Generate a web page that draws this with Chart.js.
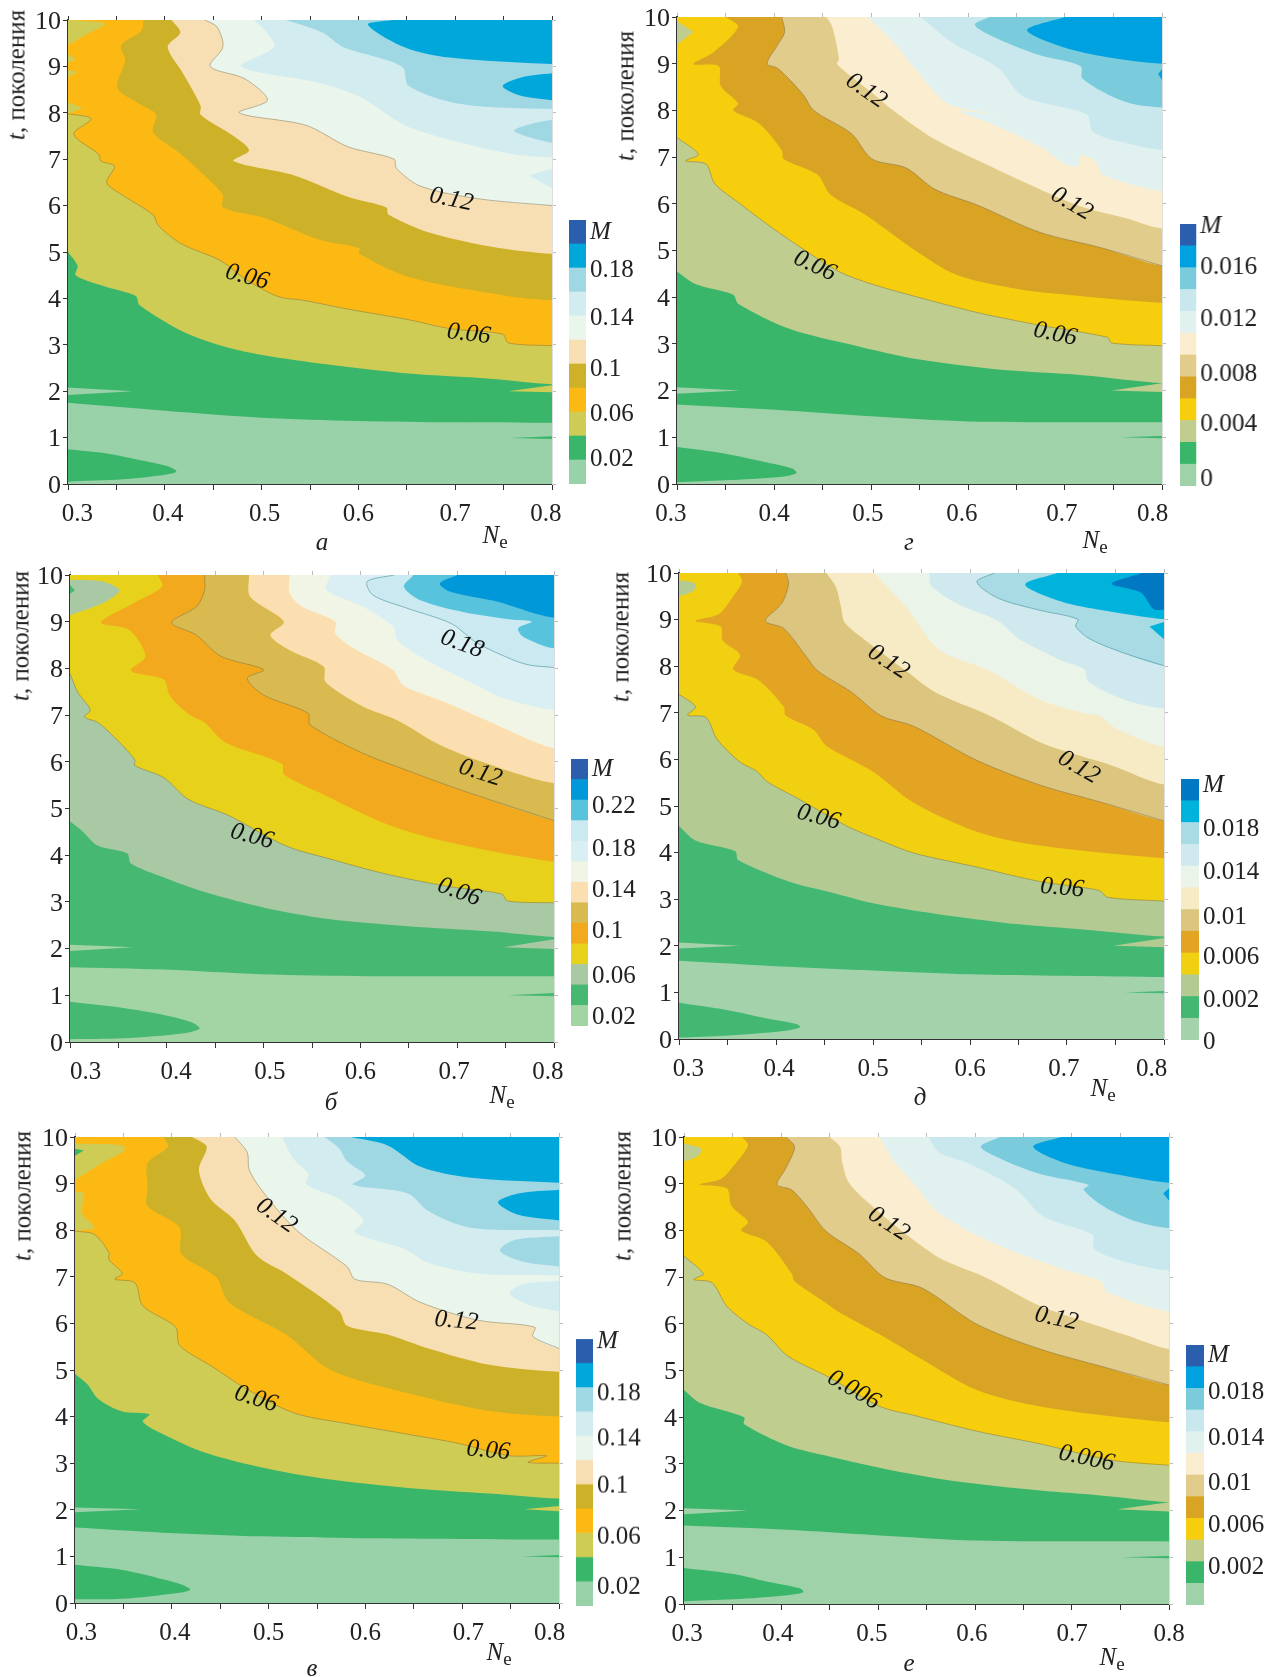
<!DOCTYPE html>
<html>
<head>
<meta charset="utf-8">
<title>M contours</title>
<script src="https://cdn.jsdelivr.net/npm/chart.js@4"></script>
<style>
body { margin: 0; background: #fff; }
#page { position: relative; width: 1279px; height: 1677px; overflow: hidden; font-family: "Liberation Serif", serif; font-size: 25px; color: #222; }
#page canvas { position: absolute; }
.txt { position: absolute; white-space: nowrap; transform: translate(-50%, -50%); line-height: 1; }
.txt sub { font-size: 19px; vertical-align: -5px; line-height: 0; }
</style>
</head>
<body>
<div id="page"></div>
<script>
// axis ticks
var neMin = 0.3, neMax = 0.8, tMin = 0, tMax = 10;

// panel a: contours as [Ne, t], bottom to top
var a1 = [[.3,1.75],[.4,1.58],[.5,1.43],[.6,1.36],[.7,1.33],[.8,1.32]];
var a2 = [[.3,5],[.31,4.7],[.308,4.5],[.336,4.27],[.37,4.05],[.374,3.85],[.42,3.27],[.462,2.96],[.504,2.77],[.567,2.58],[.652,2.38],[.736,2.27],[.8,2.15]];
var a3 = [[.3,7.98],[.324,7.87],[.306,7.54],[.332,7.1],[.334,6.96],[.348,6.85],[.34,6.5],[.353,6.27],[.388,5.8],[.393,5.58],[.416,5.19],[.458,4.81],[.483,4.42],[.517,4.04],[.543,3.96],[.589,3.77],[.652,3.54],[.694,3.35],[.749,3.23],[.755,3.04],[.8,2.98]];
var a4 = [[.378,10],[.376,9.77],[.355,9.46],[.359,9.12],[.351,8.54],[.374,8.19],[.391,7.96],[.388,7.58],[.416,7.12],[.441,6.65],[.46,6.23],[.46,5.96],[.504,5.73],[.559,5.27],[.601,5.08],[.601,4.96],[.652,4.46],[.757,4.04],[.8,3.96]];
var a5 = [[.407,10],[.416,9.73],[.403,9.42],[.418,8.88],[.437,8.15],[.437,7.96],[.471,7.5],[.487,7.19],[.471,6.96],[.534,6.65],[.589,6.19],[.629,5.96],[.631,5.81],[.673,5.42],[.736,5.12],[.8,4.96]];
var a6 = [[.441,10],[.454,9.85],[.46,9.42],[.447,9],[.483,8.73],[.506,8.27],[.477,8],[.546,7.73],[.589,7.27],[.637,7],[.639,6.81],[.664,6.42],[.723,6.15],[.8,6]];
var a7 = [[.492,10],[.504,9.77],[.513,9.42],[.479,9],[.559,8.65],[.601,8.35],[.648,7.73],[.694,7.42],[.757,7.12],[.8,7.04]];
var a8 = [[.525,10],[.563,9.73],[.584,9.42],[.645,9],[.652,8.58],[.706,8.19],[.8,8.08]];
var a9 = [[.635,10],[.61,9.9],[.647,9.42],[.694,9.19],[.8,9.05]];
var aBlob = [[.3,.75],[.34,.66],[.378,.5],[.403,.38],[.412,.27],[.4,.2],[.357,.1],[.3,.05]];
var aSliverL = [[.3,2.08],[.367,2],[.3,1.92]];
var aSliverR = [[.755,2],[.8,2.13],[.8,1.98]];
var aThin = [[.757,.99],[.8,1.03],[.8,.97]];
var aPocket1 = [[.3,10],[.338,9.92],[.319,9.69],[.3,9.46]];
var aPocket2 = [[.3,9.27],[.308,9.15],[.3,9.08]];
var aPocket3 = [[.3,8.92],[.31,8.88],[.3,8.77]];
var aPocket4 = [[.3,8.23],[.315,8.1],[.3,7.98]];
var aIsle1 = [[.8,6.8],[.776,6.65],[.8,6.38]];
var aIsle2 = [[.8,7.85],[.78,7.77],[.761,7.62],[.78,7.45],[.8,7.35]];
var aIsle3 = [[.8,8.85],[.77,8.77],[.749,8.58],[.766,8.38],[.8,8.27]];

// panel b
var b1 = [[.3,1.6],[.397,1.55],[.498,1.45],[.607,1.41],[.8,1.41]];
var b2 = [[.3,4.72],[.313,4.51],[.329,4.2],[.359,4.04],[.363,3.82],[.397,3.52],[.439,3.21],[.502,2.87],[.565,2.64],[.649,2.48],[.733,2.37],[.8,2.25]];
var b3 = [[.3,7.89],[.308,7.49],[.321,7.11],[.315,6.96],[.329,6.84],[.351,6.42],[.367,6.04],[.367,5.92],[.397,5.66],[.422,5.2],[.464,4.85],[.523,4.2],[.565,3.94],[.628,3.59],[.691,3.33],[.746,3.17],[.752,3.02],[.8,2.98]];
var b4 = [[.391,10],[.395,9.75],[.363,9.37],[.332,8.98],[.361,8.83],[.378,8.26],[.363,7.95],[.397,7.76],[.403,7.42],[.422,7.03],[.439,6.84],[.46,6.42],[.519,5.96],[.521,5.73],[.565,5.27],[.628,4.66],[.691,4.28],[.8,3.86]];
var b5 = [[.439,10],[.439,9.67],[.431,9.33],[.405,8.98],[.43,8.72],[.456,8.26],[.5,7.97],[.483,7.79],[.5,7.43],[.546,7.04],[.548,6.79],[.603,6.18],[.649,5.81],[.706,5.38],[.8,4.74]];
var b6 = [[.485,10],[.486,9.54],[.521,9],[.507,8.71],[.527,8.39],[.562,8.04],[.564,7.71],[.603,7.18],[.638,6.89],[.686,6.32],[.755,5.79],[.8,5.54]];
var b7 = [[.527,10],[.527,9.61],[.54,9.32],[.574,9],[.574,8.75],[.593,8.43],[.634,7.96],[.644,7.64],[.686,7.29],[.73,6.89],[.8,6.29]];
var b8 = [[.569,10],[.565,9.68],[.603,9.32],[.634,8.89],[.638,8.61],[.668,8.18],[.72,7.64],[.748,7.36],[.8,7.11]];
var b9 = [[.635,10],[.607,9.86],[.613,9.57],[.648,9.29],[.694,8.96],[.72,8.55],[.758,8.18],[.775,8.07],[.8,8.02]];
var b10 = [[.655,10],[.645,9.75],[.662,9.46],[.706,9.21],[.758,9.04],[.777,9],[.763,8.86],[.768,8.68],[.8,8.43]];
var b11 = [[.7,10],[.682,9.82],[.693,9.64],[.741,9.43],[.775,9.21],[.8,9.09]];
var bBlob = [[.3,.86],[.355,.73],[.397,.58],[.426,.42],[.434,.29],[.418,.19],[.355,.08],[.3,.06]];
var bSliverL = [[.3,2.08],[.365,2.03],[.3,1.95]];
var bSliverR = [[.748,2.03],[.8,2.2],[.8,1.99]];
var bThin = [[.752,1],[.8,1.05],[.8,.98]];
var bPocket1 = [[.3,9.9],[.334,9.86],[.351,9.67],[.334,9.4],[.3,9.14]];
var bPocket2 = [[.3,9.79],[.305,9.67],[.3,9.6]];
var bIsle1 = [[.8,7.89],[.792,7.84],[.8,7.72]];

// panel v
var v1 = [[.3,1.62],[.391,1.51],[.493,1.43],[.594,1.39],[.8,1.36]];
var v2 = [[.3,4.92],[.313,4.69],[.324,4.38],[.349,4.11],[.377,4.05],[.37,3.89],[.391,3.62],[.434,3.23],[.497,2.89],[.56,2.66],[.644,2.47],[.728,2.35],[.8,2.24]];
var v3 = [[.3,7.98],[.32,7.91],[.335,7.52],[.335,7.37],[.349,7.07],[.341,6.95],[.362,6.87],[.37,6.38],[.404,5.92],[.408,5.53],[.442,5.07],[.476,4.61],[.526,4.08],[.581,3.85],[.644,3.62],[.695,3.43],[.749,3.16],[.787,3.16],[.768,3.02],[.8,3]];
var v4 = [[.391,10],[.396,9.79],[.375,9.44],[.375,8.94],[.375,8.52],[.408,8.06],[.41,7.49],[.446,6.99],[.459,6.45],[.518,5.76],[.564,5],[.644,4.5],[.728,4.12],[.8,4]];
var v5 = [[.421,10],[.436,9.79],[.428,9.29],[.44,8.67],[.465,8.21],[.488,7.45],[.518,7.07],[.573,6.26],[.581,5.95],[.623,5.76],[.665,5.46],[.728,5.11],[.8,4.96]];
var v6 = [[.465,10],[.478,9.67],[.48,9.29],[.497,8.75],[.53,7.98],[.581,7.22],[.589,6.95],[.623,6.84],[.657,6.45],[.716,6.07],[.775,5.92],[.773,5.72],[.8,5.46]];
var v7 = [[.514,10],[.526,9.52],[.541,9.21],[.539,8.98],[.573,8.67],[.598,8.21],[.589,7.95],[.64,7.6],[.665,7.3],[.716,7.07],[.8,7.03]];
var v8 = [[.558,10],[.573,9.75],[.581,9.48],[.6,9.17],[.587,8.98],[.644,8.79],[.665,8.41],[.707,8.06],[.8,8]];
var v9 = [[.585,10],[.623,9.82],[.657,9.36],[.707,9.13],[.8,9.02]];
var vBlob = [[.3,.82],[.349,.71],[.391,.51],[.412,.38],[.419,.28],[.404,.21],[.349,.09],[.3,.08]];
var vSliverL = [[.3,2.05],[.368,2.01],[.3,1.95]];
var vSliverR = [[.764,2.01],[.8,2.08],[.8,1.97]];
var vThin = [[.762,1],[.8,1.03],[.8,.98]];
var vPocket1 = [[.3,9.86],[.349,9.82],[.351,9.71],[.328,9.44],[.3,9.07]];
var vPocket2 = [[.3,8.83],[.309,8.79],[.307,8.37],[.32,8.06],[.3,7.98]];
var vPocket3 = [[.3,9.75],[.309,9.71],[.3,9.6]];
var vIsle1 = [[.8,6.91],[.762,6.84],[.749,6.64],[.771,6.38],[.8,6.26]];
var vIsle2 = [[.8,7.87],[.754,7.79],[.739,7.56],[.762,7.33],[.8,7.22]];
var vIsle3 = [[.8,8.87],[.758,8.79],[.737,8.6],[.758,8.33],[.8,8.21]];

// panel g
var g1 = [[.3,1.7],[.415,1.57],[.501,1.45],[.601,1.34],[.8,1.32]];
var g2 = [[.3,4.55],[.319,4.28],[.358,4.05],[.363,3.86],[.415,3.33],[.48,2.98],[.545,2.68],[.631,2.45],[.718,2.33],[.8,2.16]];
var g3 = [[.3,7.42],[.322,7.06],[.309,6.92],[.33,6.85],[.339,6.43],[.367,5.97],[.384,5.7],[.415,5.24],[.467,4.55],[.501,4.28],[.545,4.02],[.61,3.67],[.674,3.4],[.744,3.14],[.748,3.02],[.8,2.96]];
var g4 = [[.35,10],[.363,9.79],[.338,9.25],[.317,8.99],[.343,8.95],[.345,8.53],[.363,8.15],[.358,8],[.384,7.73],[.408,7.15],[.41,6.96],[.445,6.62],[.458,6.2],[.493,5.78],[.545,5.01],[.588,4.48],[.653,4.17],[.718,4.02],[.8,3.88]];
var g5 = [[.408,10],[.411,9.68],[.404,9.41],[.393,9],[.404,8.9],[.43,8.34],[.441,8],[.48,7.5],[.501,6.96],[.536,6.77],[.566,6.31],[.61,5.97],[.674,5.39],[.739,5.05],[.8,4.67]];
var g6 = [[.454,10],[.46,9.79],[.467,9.1],[.465,8.99],[.501,8.38],[.523,8],[.566,7.38],[.618,6.85],[.674,6.31],[.718,5.93],[.761,5.7],[.8,5.47]];
var g7 = [[.497,10],[.527,9.37],[.545,8.91],[.579,8.15],[.629,7.92],[.592,7.98],[.627,7.69],[.674,7.23],[.7,6.85],[.713,6.81],[.716,7.04],[.731,6.92],[.739,6.62],[.8,6.27]];
var g8 = [[.551,10],[.584,9.45],[.631,8.91],[.657,8.3],[.722,7.92],[.729,7.54],[.761,7.31],[.8,7.15]];
var g9 = [[.622,10],[.607,9.83],[.631,9.53],[.674,9.18],[.716,8.95],[.718,8.68],[.761,8.19],[.8,8.06]];
var g10 = [[.7,10],[.661,9.72],[.696,9.37],[.744,9.14],[.8,9]];
var gBlob = [[.3,.79],[.35,.65],[.393,.46],[.419,.33],[.423,.23],[.406,.15],[.35,.08],[.3,.04]];
var gSliverL = [[.3,2.07],[.365,2],[.3,1.93]];
var gSliverR = [[.748,2],[.8,2.16],[.8,1.97]];
var gThin = [[.757,1],[.8,1.03],[.8,.98]];
var gPocket1 = [[.3,9.91],[.317,9.68],[.3,9.41]];
var gIsle1 = [[.8,8.88],[.796,8.78],[.8,8.65]];

// panel d
var d1 = [[.3,1.68],[.413,1.55],[.499,1.47],[.599,1.39],[.8,1.33]];
var d2 = [[.3,4.57],[.317,4.26],[.358,4.03],[.361,3.84],[.413,3.38],[.456,3.15],[.499,2.92],[.564,2.69],[.651,2.46],[.716,2.35],[.8,2.2]];
var d3 = [[.3,7.4],[.317,7.13],[.309,6.95],[.328,6.9],[.339,6.44],[.363,5.94],[.38,5.75],[.391,5.52],[.421,5.18],[.473,4.57],[.508,4.26],[.542,3.99],[.607,3.69],[.672,3.38],[.733,3.19],[.742,3.04],[.8,2.96]];
var d4 = [[.361,10],[.365,9.81],[.356,9.5],[.341,9.12],[.317,8.97],[.343,8.85],[.345,8.55],[.363,8.24],[.356,7.93],[.382,7.7],[.408,7.13],[.41,6.94],[.439,6.63],[.452,6.29],[.499,5.75],[.542,5.07],[.607,4.45],[.672,4.15],[.8,3.88]];
var d5 = [[.41,10],[.413,9.77],[.406,9.35],[.389,8.97],[.408,8.81],[.43,8.24],[.443,7.9],[.478,7.44],[.508,6.94],[.542,6.71],[.607,5.98],[.672,5.45],[.737,5.07],[.8,4.68]];
var d6 = [[.452,10],[.462,9.69],[.467,9.27],[.471,8.93],[.495,8.51],[.534,7.9],[.564,7.44],[.62,6.94],[.672,6.37],[.716,6.06],[.746,5.87],[.8,5.46]];
var d7 = [[.501,10],[.534,9.27],[.568,8.36],[.62,7.9],[.672,7.28],[.72,6.98],[.733,6.94],[.75,6.67],[.8,6.27]];
var d8 = [[.558,10],[.56,9.73],[.586,9.35],[.629,8.97],[.651,8.58],[.694,8.13],[.718,7.93],[.722,7.67],[.759,7.28],[.8,7.09]];
var d9 = [[.625,10],[.607,9.81],[.629,9.46],[.672,9.2],[.711,9.01],[.709,8.85],[.724,8.58],[.759,8.28],[.8,8.01]];
var d10 = [[.69,10],[.657,9.75],[.694,9.39],[.737,9.2],[.8,9.01]];
var d11 = [[.778,10],[.746,9.77],[.776,9.58],[.789,9.23],[.8,9.21]];
var dBlob = [[.3,.78],[.348,.63],[.391,.44],[.421,.32],[.425,.25],[.408,.17],[.348,.07],[.3,.03]];
var dSliverL = [[.3,2.07],[.363,2],[.3,1.94]];
var dSliverR = [[.748,2],[.8,2.17],[.8,1.97]];
var dThin = [[.759,1],[.8,1.03],[.8,.98]];
var dPocket1 = [[.3,9.85],[.317,9.77],[.315,9.62],[.3,9.5]];
var dIsle1 = [[.8,8.95],[.785,8.85],[.8,8.58]];

// panel e
var e1 = [[.3,1.68],[.407,1.59],[.494,1.48],[.602,1.36],[.8,1.34]];
var e2 = [[.3,4.58],[.316,4.31],[.362,4],[.362,3.85],[.407,3.39],[.45,3.16],[.515,2.86],[.58,2.63],[.667,2.43],[.732,2.32],[.8,2.18]];
var e3 = [[.3,7.45],[.32,7.07],[.31,6.95],[.329,6.88],[.344,6.38],[.366,6],[.385,5.77],[.407,5.31],[.45,4.85],[.502,4.23],[.537,4.04],[.602,3.7],[.667,3.43],[.741,3.08],[.8,2.97]];
var e4 = [[.36,10],[.366,9.82],[.349,9.33],[.338,9.1],[.316,8.98],[.344,8.9],[.349,8.52],[.366,8.18],[.359,8],[.385,7.76],[.411,7.07],[.414,6.91],[.446,6.45],[.459,6.26],[.502,5.77],[.546,5.23],[.602,4.58],[.667,4.23],[.8,3.89]];
var e5 = [[.405,10],[.414,9.79],[.405,9.33],[.396,8.98],[.411,8.87],[.429,8.45],[.446,7.99],[.481,7.49],[.507,6.99],[.546,6.76],[.602,5.99],[.667,5.46],[.732,5.08],[.8,4.69]];
var e6 = [[.45,10],[.461,9.79],[.463,9.48],[.47,9.02],[.498,8.45],[.537,7.79],[.567,7.37],[.611,6.99],[.667,6.38],[.71,6.07],[.754,5.77],[.8,5.46]];
var e7 = [[.502,10],[.515,9.52],[.537,9],[.563,8.37],[.624,7.68],[.689,7.18],[.73,6.91],[.736,6.68],[.8,6.26]];
var e8 = [[.552,10],[.563,9.67],[.593,9.44],[.641,8.9],[.671,8.29],[.721,7.91],[.723,7.6],[.754,7.33],[.8,7.14]];
var e9 = [[.626,10],[.606,9.79],[.628,9.52],[.667,9.21],[.717,8.98],[.712,8.87],[.732,8.52],[.762,8.22],[.8,8.05]];
var e10 = [[.689,10],[.66,9.79],[.693,9.44],[.754,9.17],[.8,9.02]];
var eBlob = [[.3,.77],[.351,.64],[.385,.48],[.42,.33],[.423,.25],[.407,.19],[.351,.1],[.3,.06]];
var eSliverL = [[.3,2.05],[.366,2],[.3,1.92]];
var eSliverR = [[.747,2.03],[.8,2.18],[.8,1.98]];
var eThin = [[.751,1],[.8,1.03],[.8,.98]];
var ePocket1 = [[.3,9.86],[.318,9.75],[.314,9.59],[.3,9.48]];
var eIsle1 = [[.8,8.9],[.794,8.79],[.8,8.64]];

// colour bar tick labels
var aBarLabels = ['0.02','0.06','0.1','0.14','0.18','M'];
var bBarLabels = ['0.02','0.06','0.1','0.14','0.18','0.22','M'];
var vBarLabels = ['0.02','0.06','0.1','0.14','0.18','M'];
var gBarLabels = ['0','0.004','0.008','0.012','0.016','M'];
var dBarLabels = ['0','0.002','0.006','0.01','0.014','0.018','M'];
var eBarLabels = ['0.002','0.006','0.01','0.014','0.018','M'];

// colours, bottom of the bar to the top
var warmColors = ['#99d1a9','#3ab66a','#cfcc55','#fdb913','#cdb128','#f8dfb3','#eaf5ec','#d2ecf0','#9fd8e3','#00a7da','#2b5fae'];
var bColors = ['#a2d5a3','#47b871','#a9c8a4','#e8d11a','#f2a91e','#d8ba50','#fbdfb0','#f0f5e6','#d9eff3','#cbe9f1','#58c3dd','#0098d8','#2b5fae'];
var gColors = ['#a0d2aa','#39b66a','#bfcd8f','#f6ce0e','#d9a324','#e2cc8b','#fbedcf','#e1f1f0','#c9e8ee','#7accdc','#00a1e0','#2b5fae'];
var dColors = ['#a4d3ab','#43b873','#b3cb93','#f1cf11','#e4a423','#dcc57e','#f7ebc6','#eaf4e8','#d0e9ee','#a9dbe4','#00b3dc','#0079c2'];

var panels = [
  { name: 'а', frame: [67.5, 552, 19.5, 484], bar: [569, 586, 219.5, 484], colors: warmColors,
    contours: [a1,a2,a3,a4,a5,a6,a7,a8,a9], lines: [2,5], topDark: true, labelShift: [8,4,2,-1,0,-5],
    islands: [[aBlob,1],[aSliverL,0],[aSliverR,2],[aThin,1],[aPocket1,2],[aPocket2,2],[aPocket3,2],[aPocket4,2],[aIsle1,7],[aIsle2,8],[aIsle3,9]],
    barLabels: aBarLabels, barPos: [1.04,2.9,4.78,6.9,8.9,10.5],
    notes: [['0.12',.696,6.13,12],['0.06',.485,4.46,15],['0.06',.714,3.23,7]],
    yTitle: [16,75], neText: [495,534], caption: [322,541] },
  { name: 'г', frame: [677, 1162, 17, 484], bar: [1180, 1196.5, 224, 486], colors: gColors,
    contours: [g1,g2,g3,g4,g5,g6,g7,g8,g9,g10], lines: [2,4], labelShift: [-5,0,-3,-6,-3,-10],
    islands: [[gBlob,1],[gSliverL,0],[gSliverR,2],[gThin,1],[gPocket1,2],[gIsle1,10]],
    barLabels: gBarLabels, barPos: [.28,2.8,5.1,7.65,10,11.9],
    notes: [['0.12',.495,8.42,35],['0.12',.707,6,30],['0.06',.442,4.67,25],['0.06',.69,3.21,12]],
    yTitle: [625,96], neText: [1095,539], caption: [909,541] },
  { name: 'б', frame: [69.5, 554, 575, 1042], bar: [570.5, 588, 759, 1026], colors: bColors,
    contours: [b1,b2,b3,b4,b5,b6,b7,b8,b9,b10,b11], lines: [2,4,8], labelShift: [14,10,7,-1,-2,-5],
    islands: [[bBlob,1],[bSliverL,0],[bSliverR,2],[bThin,1],[bPocket1,2],[bPocket2,1],[bIsle1,8]],
    barLabels: bBarLabels, barPos: [.43,2.4,4.6,6.6,8.6,10.7,12.5],
    notes: [['0.18',.705,8.52,20],['0.12',.724,5.76,18],['0.06',.488,4.4,15],['0.06',.702,3.21,20]],
    yTitle: [20,636], neText: [502,1094], caption: [331,1101] },
  { name: 'д', frame: [679, 1164, 572.5, 1039], bar: [1181, 1199, 778.5, 1040], colors: dColors,
    contours: [d1,d2,d3,d4,d5,d6,d7,d8,d9,d10,d11], lines: [2,4,8], labelShift: [8,3,1,0,-3,-11],
    islands: [[dBlob,1],[dSliverL,0],[dSliverR,2],[dThin,1],[dPocket1,2],[dIsle1,10]],
    barLabels: dBarLabels, barPos: [-.1,1.8,3.8,5.65,7.7,9.7,11.7],
    notes: [['0.12',.516,8.09,33],['0.12',.712,5.83,30],['0.06',.444,4.76,15],['0.06',.695,3.24,5]],
    yTitle: [620,637], neText: [1103,1087], caption: [920,1096] },
  { name: 'в', frame: [74.5, 559, 1137, 1603], bar: [575.5, 592.5, 1339, 1605.5], colors: warmColors,
    contours: [v1,v2,v3,v4,v5,v6,v7,v8,v9], lines: [2,5], labelShift: [6,2,-1,-1,6,-8],
    islands: [[vBlob,1],[vSliverL,0],[vSliverR,2],[vThin,1],[vPocket1,2],[vPocket2,2],[vPocket3,1],[vIsle1,7],[vIsle2,8],[vIsle3,9]],
    barLabels: vBarLabels, barPos: [.78,2.85,4.95,6.9,8.75,10.9],
    notes: [['0.12',.508,8.31,35],['0.12',.694,6.05,5],['0.06',.487,4.38,17],['0.06',.727,3.27,5]],
    yTitle: [22,1196], neText: [499,1651], caption: [312,1667] },
  { name: 'е', frame: [684, 1169, 1137, 1604], bar: [1186, 1204, 1345, 1605], colors: gColors,
    contours: [e1,e2,e3,e4,e5,e6,e7,e8,e9,e10], lines: [2,4], labelShift: [2,-2,-5,-3,-1,-1],
    islands: [[eBlob,1],[eSliverL,0],[eSliverR,2],[eThin,1],[ePocket1,2],[eIsle1,10]],
    barLabels: eBarLabels, barPos: [1.73,3.65,5.6,7.7,9.8,11.5],
    notes: [['0.12',.511,8.14,33],['0.12',.684,6.11,12],['0.006',.475,4.58,30],['0.006',.715,3.12,12]],
    yTitle: [622,1196], neText: [1112,1656], caption: [909,1662] }
];

var page = document.getElementById('page');
var serif = '"Liberation Serif", serif';

function addCanvas(x, y, w, h) {
  var c = document.createElement('canvas');
  c.width = w; c.height = h;
  c.style.left = x + 'px'; c.style.top = y + 'px';
  c.style.width = w + 'px'; c.style.height = h + 'px';
  page.appendChild(c);
  return c.getContext('2d');
}

function addText(html, x, y, rotate) {
  var d = document.createElement('div');
  d.className = 'txt';
  d.innerHTML = html;
  d.style.left = x + 'px'; d.style.top = y + 'px';
  if (rotate) d.style.transform = 'translate(-50%, -50%) rotate(' + rotate + 'deg)';
  page.appendChild(d);
}

function toPoints(list) {
  return list.map(function (p) { return { x: p[0], y: p[1] }; });
}

// the printed labels sit a little off their ticks, spaces push them sideways
function shiftLabel(text, px) {
  var n = Math.round(Math.abs(px) * 2 / 6);
  var sp = ' '.repeat(n);
  return px > 0 ? sp + text : text + sp;
}

// contour labels along the lines
var notePlugin = {
  id: 'contourNotes',
  afterDatasetsDraw: function (chart, args, opts) {
    var ctx = chart.ctx;
    opts.items.forEach(function (n) {
      ctx.save();
      ctx.translate(chart.scales.x.getPixelForValue(n[1]), chart.scales.y.getPixelForValue(n[2]));
      ctx.rotate(n[3] * Math.PI / 180);
      ctx.font = 'italic 25px ' + serif;
      ctx.fillStyle = '#111';
      ctx.textAlign = 'center';
      ctx.textBaseline = 'middle';
      ctx.fillText(n[0], 0, 0);
      ctx.restore();
    });
  }
};

function drawPanel(p) {
  var padL = 55, padR = 24, padT = 10, padB = 50;
  var f = p.frame;
  var ctx = addCanvas(f[0] - padL, f[2] - padT, f[1] - f[0] + padL + padR, f[3] - f[2] + padT + padB);

  // painted one over the other, lowest band first
  // each contour runs on flat past the right edge and closes outside the axes, so the curve does not bend at the edge
  var layers = [];
  layers.push({ data: toPoints([[neMin,tMin],[neMax,tMin],[neMax,tMax],[neMin,tMax]]), backgroundColor: p.colors[0], tension: 0 });
  p.contours.forEach(function (c, i) {
    var last = c[c.length - 1][1];
    var closing = [[neMax + 0.05,last],[neMax + 0.1,last],[neMax + 0.1,tMax + 1],[neMin - 0.1,tMax + 1]];
    layers.push({ data: toPoints(c.concat(closing)), backgroundColor: p.colors[i + 1], tension: 0.3 });
  });
  p.islands.forEach(function (s) {
    layers.push({ data: toPoints(s[0]), backgroundColor: p.colors[s[1]], tension: s[0].length > 3 ? 0.3 : 0 });
  });
  layers.forEach(function (l) { l.fill = 'shape'; l.borderWidth = 0; });
  p.lines.forEach(function (i) {
    layers.push({ data: toPoints(p.contours[i]), fill: false, tension: 0.3, borderWidth: 0.8, borderColor: i > 5 ? 'rgba(60,140,150,0.7)' : 'rgba(110,100,70,0.55)' });
  });
  layers.forEach(function (l, i) { l.order = layers.length - i; l.showLine = true; l.pointRadius = 0; });

  var topColor = p.topDark ? '#333' : '#bbb';
  new Chart(ctx, {
    type: 'scatter',
    data: { datasets: layers },
    plugins: [notePlugin],
    options: {
      responsive: false,
      animation: false,
      events: [],
      layout: { padding: 0 },
      plugins: { legend: { display: false }, tooltip: { enabled: false }, contourNotes: { items: p.notes } },
      scales: {
        x: {
          type: 'linear', min: neMin, max: neMax,
          border: { color: '#333', width: 2 },
          grid: { drawOnChartArea: false, tickLength: 6, tickColor: '#333' },
          ticks: {
            stepSize: 0.05, autoSkip: false, maxRotation: 0, padding: 9, color: '#222',
            font: { family: serif, size: 25 },
            callback: function (v) {
              var k = Math.round(v * 100);
              return k % 10 === 0 ? shiftLabel(v.toFixed(1), p.labelShift[k / 10 - 3]) : '';
            }
          },
          afterFit: function (s) { s.height = padB; s.paddingLeft = 0; s.paddingRight = 0; }
        },
        x2: {
          type: 'linear', position: 'top', min: neMin, max: neMax,
          border: { color: topColor, width: 1 },
          grid: { drawOnChartArea: false, tickLength: 4, tickColor: topColor },
          ticks: { stepSize: 0.05, autoSkip: false, display: false },
          afterFit: function (s) { s.height = padT; s.paddingLeft = 0; s.paddingRight = 0; }
        },
        y: {
          type: 'linear', min: tMin, max: tMax,
          border: { color: '#333', width: 2 },
          grid: { drawOnChartArea: false, tickLength: 5, tickColor: '#333' },
          ticks: { stepSize: 1, autoSkip: false, padding: 2, labelOffset: 2, color: '#222', font: { family: serif, size: 26 } },
          afterFit: function (s) { s.width = padL; s.paddingTop = 0; s.paddingBottom = 0; }
        },
        y2: {
          type: 'linear', position: 'right', min: tMin, max: tMax,
          border: { color: '#ddd', width: 1 },
          grid: { drawOnChartArea: false, tickLength: 4, tickColor: '#bbb' },
          ticks: { stepSize: 1, display: false },
          afterFit: function (s) { s.width = padR; s.paddingTop = 0; s.paddingBottom = 0; }
        }
      }
    }
  });

  drawBar(p);
  addText('<i>t</i>, поколения', p.yTitle[0], p.yTitle[1], -90);
  addText('<i>N</i><sub>e</sub>', p.neText[0], p.neText[1]);
  addText('<i>' + p.name + '</i>', p.caption[0], p.caption[1]);
}

function drawBar(p) {
  var b = p.bar, labelW = 66, pad = 16;
  var barW = b[1] - b[0];
  var ctx = addCanvas(b[0], b[2] - pad, barW + labelW, b[3] - b[2] + pad * 2);
  var sets = p.colors.map(function (c) {
    return { data: [1], backgroundColor: c, borderWidth: 0, barPercentage: 1, categoryPercentage: 1, stack: 's' };
  });
  new Chart(ctx, {
    type: 'bar',
    data: { labels: ['M'], datasets: sets },
    options: {
      responsive: false,
      animation: false,
      events: [],
      layout: { padding: { top: pad, bottom: pad, left: 0, right: 0 } },
      plugins: { legend: { display: false }, tooltip: { enabled: false } },
      scales: {
        x: { display: false, stacked: true },
        y: {
          position: 'right', stacked: true, min: 0, max: p.colors.length,
          border: { display: false },
          grid: { display: false, drawTicks: false },
          ticks: {
            autoSkip: false, padding: 4, color: '#222',
            font: function (c) { return { family: serif, size: 25, style: c.tick && c.tick.label === 'M' ? 'italic' : 'normal' }; },
            callback: function (v, i) { return p.barLabels[i]; }
          },
          afterBuildTicks: function (s) { s.ticks = p.barPos.map(function (v) { return { value: v }; }); },
          afterFit: function (s) { s.width = labelW; s.paddingTop = 0; s.paddingBottom = 0; }
        }
      }
    }
  });
}

panels.forEach(drawPanel);
</script>
</body>
</html>
